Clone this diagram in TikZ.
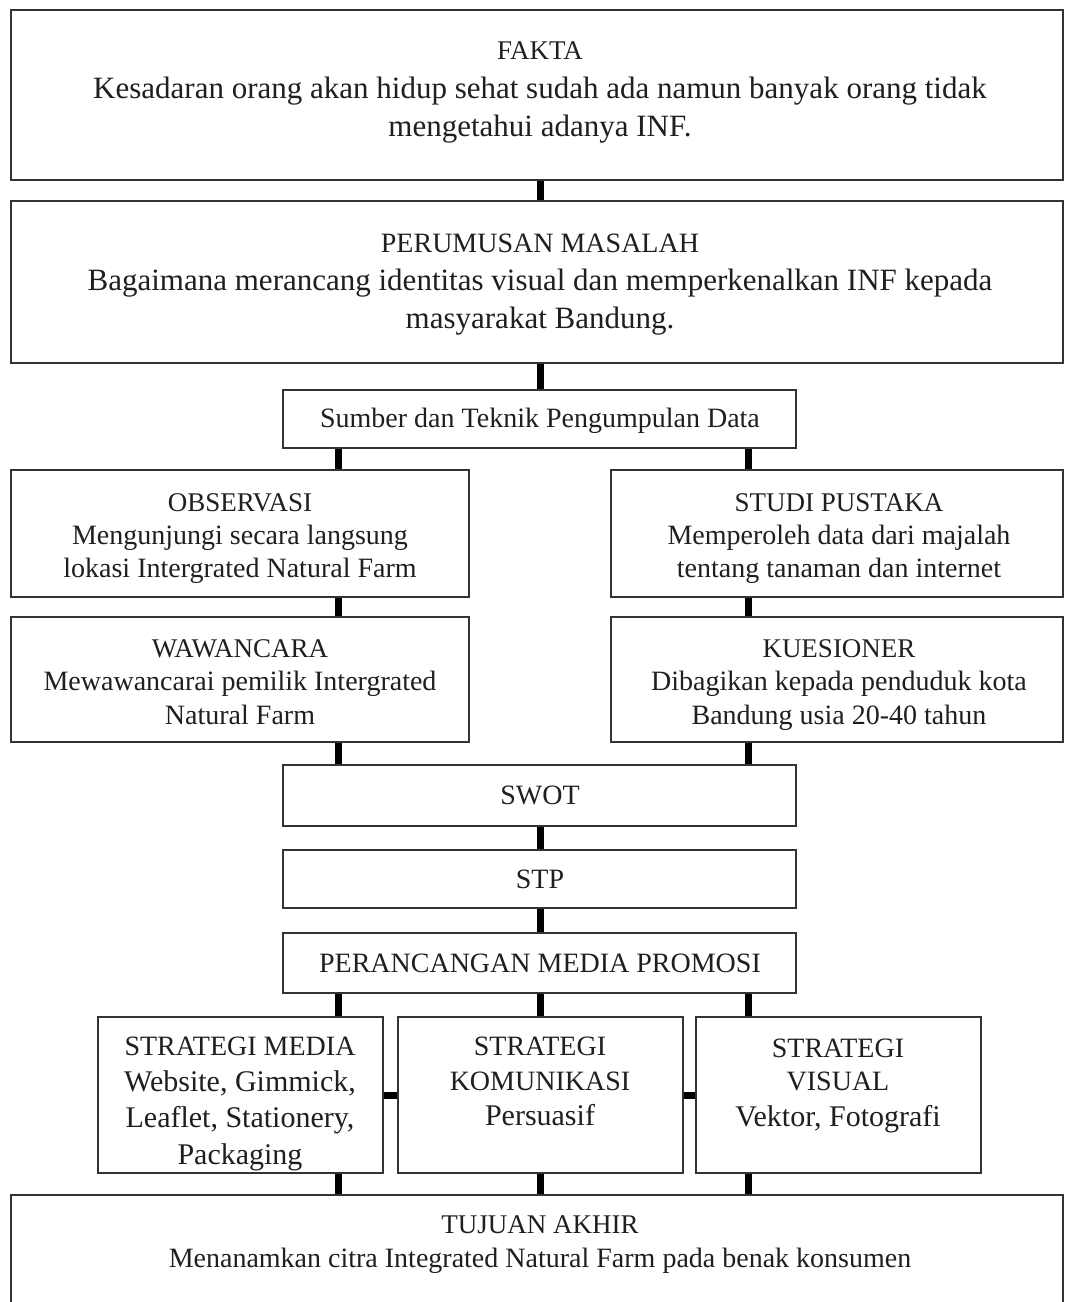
\documentclass[tikz,border=0pt]{standalone}
\usepackage{fontspec}
\setmainfont{Liberation Serif}
\newcommand{\mytxt}[5]{\node[txt,font=\fontsize{#4}{#4}\selectfont,anchor=base] (#1) at (#2,#3) {#5};}
\begin{document}
\begin{tikzpicture}[x=1pt,y=-1pt,
  box/.style={draw=black!80,line width=2.2pt,inner sep=0pt,fill=white},
  conn/.style={line width=7pt,black},
  txt/.style={inner sep=0pt,text=black!88}]
\useasboundingbox (0,0) rectangle (1065,1302);
\begin{scope}
\clip (0,0) rectangle (1065,1302);
% boxes
\node[box,minimum width=1052,minimum height=170] (fakta) at (537,95) {};
\node[box,minimum width=1052,minimum height=162] (rumus) at (537,282) {};
\node[box,minimum width=513,minimum height=58] (sumber) at (539.5,419) {};
\node[box,minimum width=458,minimum height=127] (obs) at (240,533.5) {};
\node[box,minimum width=452,minimum height=127] (studi) at (837,533.5) {};
\node[box,minimum width=458,minimum height=125] (waw) at (240,679.5) {};
\node[box,minimum width=452,minimum height=125] (kues) at (837,679.5) {};
\node[box,minimum width=513,minimum height=61] (swot) at (539.5,795.5) {};
\node[box,minimum width=513,minimum height=58] (stp) at (539.5,879) {};
\node[box,minimum width=513,minimum height=60] (peran) at (539.5,963) {};
\node[box,minimum width=285,minimum height=156] (media) at (240.5,1095) {};
\node[box,minimum width=285,minimum height=156] (kom) at (540.5,1095) {};
\node[box,minimum width=285,minimum height=156] (vis) at (838.5,1095) {};
\node[box,minimum width=1052,minimum height=140] (tujuan) at (537,1265) {};
% connector columns
\coordinate (cl) at (338,0);
\coordinate (cm) at (540,0);
\coordinate (cr) at (748,0);
% connectors
\draw[conn] (fakta.south -| cm) -- (rumus.north -| cm);
\draw[conn] (rumus.south -| cm) -- (sumber.north -| cm);
\draw[conn] (sumber.south -| cl) -- (obs.north -| cl);
\draw[conn] (sumber.south -| cr) -- (studi.north -| cr);
\draw[conn] (obs.south -| cl) -- (waw.north -| cl);
\draw[conn] (studi.south -| cr) -- (kues.north -| cr);
\draw[conn] (waw.south -| cl) -- (swot.north -| cl);
\draw[conn] (kues.south -| cr) -- (swot.north -| cr);
\draw[conn] (swot.south -| cm) -- (stp.north -| cm);
\draw[conn] (stp.south -| cm) -- (peran.north -| cm);
\draw[conn] (peran.south -| cl) -- (media.north -| cl);
\draw[conn] (peran.south -| cm) -- (kom.north -| cm);
\draw[conn] (peran.south -| cr) -- (vis.north -| cr);
\draw[conn] (media.east) -- (kom.west);
\draw[conn] (kom.east) -- (vis.west);
\draw[conn] (media.south -| cl) -- (tujuan.north -| cl);
\draw[conn] (kom.south -| cm) -- (tujuan.north -| cm);
\draw[conn] (vis.south -| cr) -- (tujuan.north -| cr);
% texts
\mytxt{t1}{540}{59}{27}{FAKTA}
\mytxt{t2}{540}{98}{31}{Kesadaran orang akan hidup sehat sudah ada namun banyak orang tidak}
\mytxt{t3}{540}{136}{31}{mengetahui adanya INF.}
\mytxt{t4}{540}{252}{28}{PERUMUSAN MASALAH}
\mytxt{t5}{540}{290}{31}{Bagaimana merancang identitas visual dan memperkenalkan INF kepada}
\mytxt{t6}{540}{328}{31}{masyarakat Bandung.}
\mytxt{t7}{540}{427}{28}{Sumber dan Teknik Pengumpulan Data}
\mytxt{t8}{240}{511}{27}{OBSERVASI}
\mytxt{t9}{240}{544}{28}{Mengunjungi secara langsung}
\mytxt{t10}{240}{577}{28}{lokasi Intergrated Natural Farm}
\mytxt{t11}{839}{511}{27}{STUDI PUSTAKA}
\mytxt{t12}{839}{544}{28}{Memperoleh data dari majalah}
\mytxt{t13}{839}{577}{28}{tentang tanaman dan internet}
\mytxt{t14}{240}{657}{27}{WAWANCARA}
\mytxt{t15}{240}{690}{28}{Mewawancarai pemilik Intergrated}
\mytxt{t16}{240}{724}{28}{Natural Farm}
\mytxt{t17}{839}{657}{27}{KUESIONER}
\mytxt{t18}{839}{690}{28}{Dibagikan kepada penduduk kota}
\mytxt{t19}{839}{724}{28}{Bandung usia 20-40 tahun}
\mytxt{t20}{540}{804}{28}{SWOT}
\mytxt{t21}{540}{888}{28}{STP}
\mytxt{t22}{540}{972}{28}{PERANCANGAN MEDIA PROMOSI}
\mytxt{t23}{240}{1055}{28}{STRATEGI MEDIA}
\mytxt{t24}{240}{1091}{30}{Website, Gimmick,}
\mytxt{t25}{240}{1127}{30}{Leaflet, Stationery,}
\mytxt{t26}{240}{1164}{30}{Packaging}
\mytxt{t27}{540}{1055}{28}{STRATEGI}
\mytxt{t28}{540}{1090}{28}{KOMUNIKASI}
\mytxt{t29}{540}{1125}{30}{Persuasif}
\mytxt{t30}{838}{1057}{28}{STRATEGI}
\mytxt{t31}{838}{1090}{28}{VISUAL}
\mytxt{t32}{838}{1126}{30}{Vektor, Fotografi}
\mytxt{t33}{540}{1233}{27}{TUJUAN AKHIR}
\mytxt{t34}{540}{1267}{28}{Menanamkan citra Integrated Natural Farm pada benak konsumen}
\end{scope}
\end{tikzpicture}
\end{document}
